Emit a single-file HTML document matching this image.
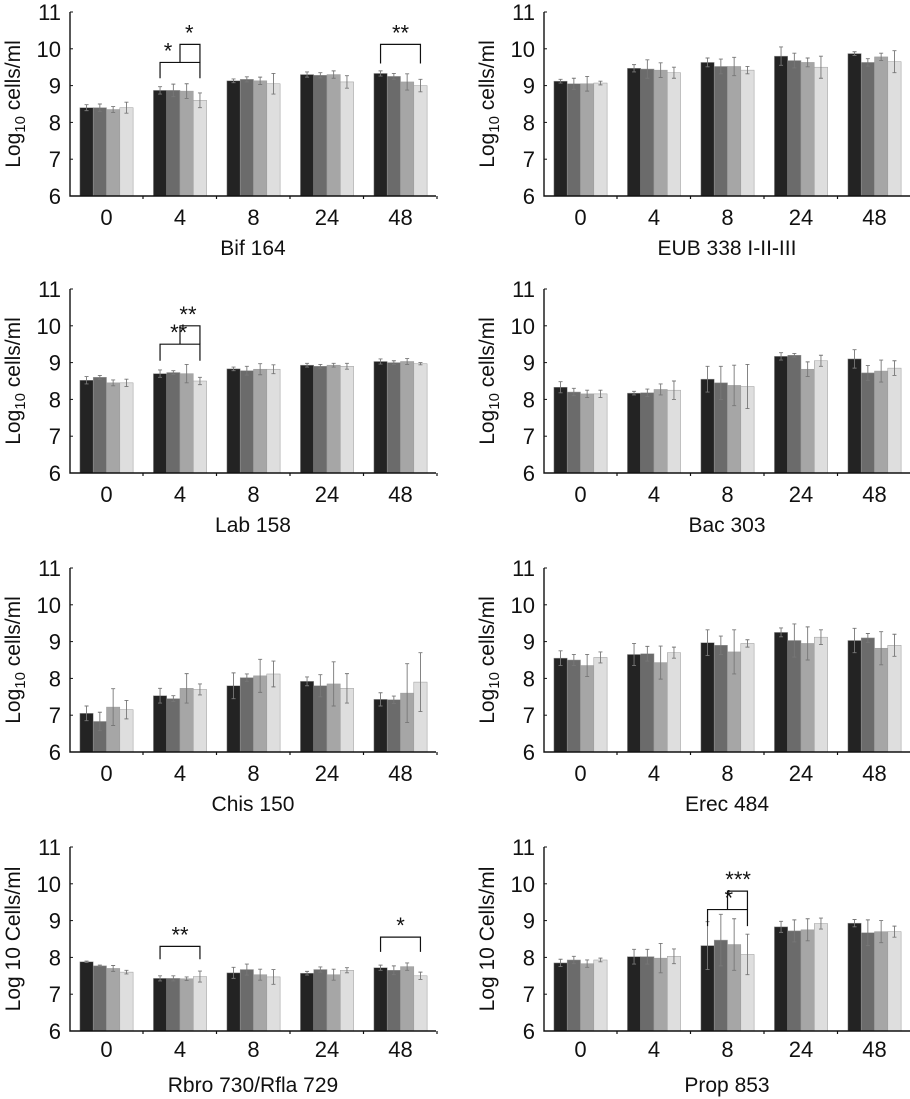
<!DOCTYPE html>
<html><head><meta charset="utf-8">
<style>
body{margin:0;background:#fff;}
svg{display:block;font-family:"Liberation Sans",Arial,sans-serif;}
</style></head>
<body>
<svg id="chart" width="910" height="1099" viewBox="0 0 910 1099"></svg>
<script>
const categories = ["0","4","8","24","48"];
const yTicks = [6,7,8,9,10,11];
const titles = ["Bif 164","EUB 338 I-II-III","Lab 158","Bac 303","Chis 150","Erec 484","Rbro 730/Rfla 729","Prop 853"];
// values[panel][group][series]
const values = [
 [[8.4,8.4,8.35,8.4],[8.87,8.87,8.85,8.6],[9.13,9.17,9.13,9.05],[9.3,9.28,9.3,9.1],[9.33,9.25,9.1,9.0]],
 [[9.12,9.05,9.05,9.07],[9.47,9.45,9.42,9.35],[9.63,9.52,9.52,9.42],[9.8,9.68,9.63,9.5],[9.87,9.63,9.78,9.65]],
 [[8.52,8.6,8.45,8.45],[8.7,8.73,8.7,8.5],[8.83,8.78,8.82,8.82],[8.93,8.9,8.93,8.9],[9.03,9.0,9.03,8.97]],
 [[8.33,8.2,8.15,8.15],[8.17,8.18,8.27,8.25],[8.55,8.45,8.38,8.35],[9.17,9.2,8.82,9.05],[9.1,8.72,8.77,8.85]],
 [[7.05,6.83,7.22,7.15],[7.53,7.45,7.73,7.7],[7.8,8.02,8.07,8.12],[7.92,7.8,7.85,7.73],[7.43,7.42,7.6,7.9]],
 [[8.55,8.5,8.35,8.57],[8.65,8.67,8.43,8.7],[8.97,8.9,8.72,8.95],[9.25,9.03,8.95,9.12],[9.03,9.1,8.82,8.9]],
 [[7.88,7.77,7.7,7.6],[7.43,7.43,7.42,7.48],[7.58,7.67,7.53,7.47],[7.57,7.67,7.53,7.65],[7.72,7.65,7.75,7.5]],
 [[7.85,7.93,7.83,7.93],[8.02,8.02,7.98,8.03],[8.32,8.47,8.35,8.08],[8.83,8.72,8.75,8.92],[8.93,8.67,8.7,8.7]]
];
const errors = [
 [[.08,.1,.08,.15],[.1,.17,.2,.2],[.05,.07,.1,.28],[.07,.07,.1,.17],[.07,.08,.22,.17]],
 [[.05,.15,.2,.05],[.1,.25,.2,.15],[.12,.2,.25,.1],[.25,.2,.12,.3],[.05,.1,.1,.3]],
 [[.1,.05,.08,.1],[.1,.05,.25,.1],[.05,.12,.15,.12],[.05,.05,.05,.08],[.07,.05,.08,.03]],
 [[.15,.1,.1,.1],[.05,.1,.15,.25],[.35,.45,.55,.6],[.1,.05,.2,.15],[.25,.2,.3,.2]],
 [[.2,.25,.5,.25],[.2,.08,.4,.15],[.35,.1,.45,.35],[.12,.3,.6,.4],[.18,.1,.8,.8]],
 [[.2,.15,.3,.15],[.3,.2,.45,.15],[.35,.25,.6,.1],[.12,.45,.45,.2],[.33,.12,.45,.3]],
 [[.02,.02,.08,.05],[.07,.07,.05,.15],[.15,.15,.15,.2],[.05,.07,.15,.07],[.07,.12,.1,.1]],
 [[.1,.1,.1,.05],[.2,.2,.4,.2],[.65,.7,.7,.55],[.15,.3,.3,.15],[.1,.35,.3,.15]]
];
// brackets: [panel, group, startBar, endBar, topValue, bottomValue, label, labelBar]
const brackets = [
 [0,1,0,3,9.63,9.2,"*",0.6],
 [0,1,1.5,3,10.12,9.63,"*",2.2],
 [0,4,0,3,10.12,9.6,"**",1.5],
 [2,1,0,3,9.5,9.05,"**",1.4],
 [2,1,1.5,3,10.0,9.5,"**",2.1],
 [6,1,0,3,8.3,7.95,"**",1.5],
 [6,4,0,3,8.55,8.15,"*",1.5],
 [7,2,0,3,9.3,8.85,"*",1.6],
 [7,2,1.5,3,9.8,9.3,"***",2.3]
];
const colors = ["#232323","#6b6b6b","#a6a6a6","#dedede"];
const colX = [70,544];
const rowTop = [12,289,568,847];
const AXH = 184, AXW = 366, GAP = 73.5, BW = 13.3;
const NS = "http://www.w3.org/2000/svg";
const svg = document.getElementById("chart");
function mk(tag, attrs, parent){
  const e = document.createElementNS(NS, tag);
  for (const k in attrs) e.setAttribute(k, attrs[k]);
  (parent||svg).appendChild(e);
  return e;
}
titles.forEach((title, p) => {
  const x0 = colX[p%2], top = rowTop[Math.floor(p/2)], bot = top + AXH;
  const last = p >= 6;
  const yS = v => bot - (v-6)/5*AXH;
  const gX = g => x0 + 36.5 + g*GAP;
  const bX = (g,s) => gX(g) - 2*BW + s*BW;
  const g = mk("g", {});
  
  
  values[p].forEach((grp, gi) => grp.forEach((v, s) => {
    const r = mk("rect", {x:bX(gi,s), y:yS(v), width:BW, height:bot-yS(v), fill:colors[s], stroke:"#9a9a9a", "stroke-width":0.5}, g);
    
    
    const e = errors[p][gi][s], cx = bX(gi,s)+BW/2;
    const eb = mk("path", {d:`M${cx},${yS(v+e)}V${yS(v-e)}M${cx-2},${yS(v+e)}H${cx+2}M${cx-2},${yS(v-e)}H${cx+2}`, stroke:"#777", "stroke-width":0.9, fill:"none"}, g);
    
    
  }));
  const ax = mk("path", {d:`M${x0},${top}V${bot}H${x0+AXW}`, stroke:"#111", "stroke-width":1.4, fill:"none"}, g);
  
  
  yTicks.forEach(t => {
    mk("line", {x1:x0, x2:x0+3, y1:yS(t), y2:yS(t), stroke:"#111", "stroke-width":1}, g);
    const tx = mk("text", {x:x0-9, y:yS(t)+8, "text-anchor":"end", "font-size":22, fill:"#111"}, g);
    tx.textContent = t;
    
    
  });
  for (let i=1;i<=5;i++){
    const tx0 = x0 + i*GAP - 0.5;
    mk("line", {x1:tx0, x2:tx0, y1:bot, y2:bot+3, stroke:"#111", "stroke-width":1.2}, g);
  }
  categories.forEach((c, gi) => {
    const t = mk("text", {x:gX(gi), y:bot+(last?26:29), "text-anchor":"middle", "font-size":22, fill:"#111"}, g);
    t.textContent = c;
    
    
  });
  const tt = mk("text", {x:x0+AXW/2, y:bot+(last?61:59), "text-anchor":"middle", "font-size":21, fill:"#111"}, g);
  tt.textContent = title;
  
  
  const ly = (top+bot)/2, lx = x0-50;
  const yl = mk("text", {x:lx, y:ly, transform:`rotate(-90 ${lx} ${ly})`, "text-anchor":"middle", "font-size":21, fill:"#111"}, g);
  
  
  if (last) { yl.textContent = "Log 10 Cells/ml"; }
  else {
    yl.appendChild(document.createTextNode("Log"));
    const sub = mk("tspan", {"font-size":15, dy:5}, yl); sub.textContent = "10";
    const rest = mk("tspan", {dy:-5}, yl); rest.textContent = " cells/ml";
  }
});
brackets.forEach(b => {
  const [p, gi, s0, s1, tv, bv, lab, lb] = b;
  const x0 = colX[p%2], top = rowTop[Math.floor(p/2)], bot = top + AXH;
  const yS = v => bot - (v-6)/5*AXH;
  const cx = s => x0 + 36.5 + gi*GAP - 2*BW + s*BW + BW/2;
  const pth = mk("path", {d:`M${cx(s0)},${yS(bv)}V${yS(tv)}H${cx(s1)}V${yS(bv)}`, stroke:"#111", "stroke-width":1.2, fill:"none"});
  
  
  const t = mk("text", {x:cx(lb), y:yS(tv)-4, "text-anchor":"middle", "font-size":22, fill:"#111"});
  t.textContent = lab;
  
  
});
</script>
</body></html>
